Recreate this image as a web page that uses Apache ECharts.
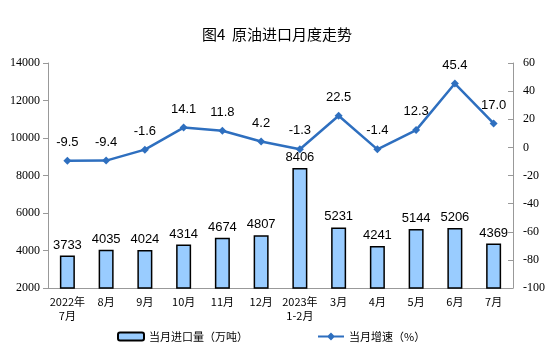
<!DOCTYPE html>
<html><head><meta charset="utf-8">
<script src="https://cdn.jsdelivr.net/npm/echarts@6/dist/echarts.min.js"></script>
<style>html,body{margin:0;padding:0;background:#fff}#c{width:554px;height:357px}</style>
</head><body><div id="c"></div>
<script>
const categories = ['2022年\n7月','8月','9月','10月','11月','12月','2023年\n1-2月','3月','4月','5月','6月','7月'];
const imports = [3733,4035,4024,4314,4674,4807,8406,5231,4241,5144,5206,4369];
const growth = [-9.5,-9.4,-1.6,14.1,11.8,4.2,-1.3,22.5,-1.4,12.3,45.4,17.0];
const barName = '当月进口量（万吨）';
const lineName = '当月增速（%）';

const chart = echarts.init(document.getElementById('c'));
chart.setOption({
  animation: false,
  title: {text: '图4  原油进口月度走势', left: 'center', top: 22,
    textStyle: {fontFamily: 'Noto Sans CJK SC', fontSize: 15, fontWeight: 'normal', color: '#000'}},
  legend: {bottom: 10, left: 112, itemGap: 70, itemWidth: 26, itemHeight: 8,
    textStyle: {fontFamily: 'Noto Sans CJK SC', fontSize: 11, color: '#000'},
    data: [{name: barName}, {name: lineName, icon: 'path://M0,4L10,4L13,1L16,4L26,4L26,6L16,6L13,9L10,6L0,6Z'}]},
  grid: {left: 48, right: 41, top: 63, height: 225},
  xAxis: {type: 'category', data: categories,
    axisLine: {onZero: false, lineStyle: {color: '#999'}},
    axisTick: {length: 3, lineStyle: {color: '#999'}},
    axisLabel: {interval: 0, fontFamily: 'Noto Sans CJK SC', fontSize: 11, color: '#000', lineHeight: 14, margin: 7}},
  yAxis: [
    {type: 'value', min: 2000, max: 14000, interval: 2000,
      axisLine: {show: true, lineStyle: {color: '#999'}},
      axisTick: {show: true, length: 5, lineStyle: {color: '#999'}},
      splitLine: {show: false},
      axisLabel: {formatter: v => String(v), fontFamily: 'Liberation Serif', fontSize: 12, color: '#000', margin: 8}},
    {type: 'value', min: -100, max: 60, interval: 20,
      axisLine: {show: true, lineStyle: {color: '#999'}},
      axisTick: {show: true, inside: true, length: 5, lineStyle: {color: '#999'}},
      splitLine: {show: false},
      axisLabel: {formatter: v => String(v), fontFamily: 'Liberation Serif', fontSize: 12, color: '#000', margin: 10}}
  ],
  series: [
    {name: barName, type: 'bar', data: imports, barWidth: 15,
      itemStyle: {color: '#99CCFF', borderColor: '#000', borderWidth: 1.5},
      label: {show: true, position: 'top', distance: 4, fontFamily: 'Liberation Sans', fontSize: 13, color: '#000'}},
    {name: lineName, type: 'line', yAxisIndex: 1, data: growth,
      symbol: 'diamond', symbolSize: 8,
      lineStyle: {color: '#2E6FBF', width: 2.5},
      itemStyle: {color: '#2E6FBF'},
      label: {show: true, position: 'top', distance: 8, fontFamily: 'Liberation Sans', fontSize: 13, color: '#000',
        formatter: p => p.value.toFixed(1)}}
  ]
});
</script></body></html>
